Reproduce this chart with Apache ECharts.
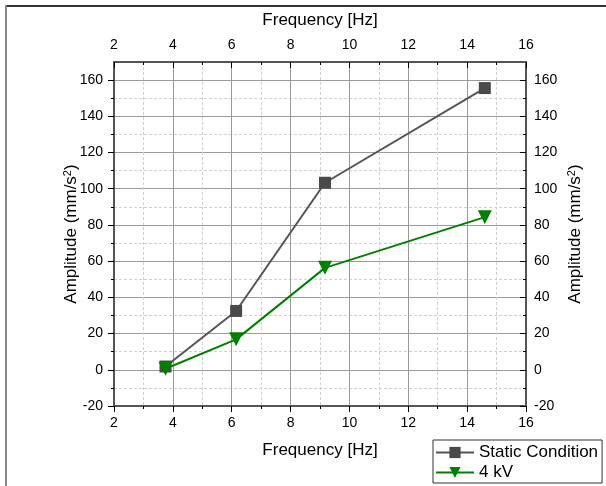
<!DOCTYPE html>
<html>
<head>
<meta charset="utf-8">
<script src="https://cdn.jsdelivr.net/npm/echarts@6/dist/echarts.min.js"></script>
<style>
  html, body { margin: 0; padding: 0; background: #fff; }
  #chart { width: 606px; height: 486px; }
</style>
</head>
<body>
<div id="chart"></div>
<script>
  // data
  var freq = [3.75, 6.15, 9.17, 14.6]
  var staticCond = [1.8, 32.5, 103.3, 155.6]
  var kv4 = [0.6, 16.8, 56.3, 84.3]
  var majorY = [-20, 0, 20, 40, 60, 80, 100, 120, 140, 160]
  var minorY = [-10, 10, 30, 50, 70, 90, 110, 130, 150]

  var chart = echarts.init(document.getElementById('chart'))
  var font = 'Liberation Sans, Arial, sans-serif'
  var axisColor = '#555'

  function pairs(ys) {
    return freq.map(function (x, i) { return [x, ys[i]] })
  }

  var ampName = 'Amplitude (mm/s{sup|2})'
  var nameStyle = {
    fontFamily: font, fontSize: 17, color: '#000',
    rich: { sup: { fontFamily: font, fontSize: 11, color: '#000', padding: [0, 0, 8, 0] } }
  }

  function xAx(pos) {
    var top = pos === 'top'
    return {
      type: 'value', position: pos, min: 2, max: 16, interval: 2,
      name: 'Frequency [Hz]', nameLocation: 'middle', nameGap: top ? 33 : 36,
      nameTextStyle: { fontFamily: font, fontSize: 17, color: '#000' },
      axisLine: { show: true, onZero: false, lineStyle: { color: axisColor, width: 2 } },
      axisTick: { show: true, inside: top, length: 6, lineStyle: { color: '#000' } },
      minorTick: { show: true, splitNumber: 2, length: 3, lineStyle: { color: '#000' } },
      axisLabel: { fontFamily: font, fontSize: 14, color: '#000', margin: 10 },
      splitLine: { show: !top, lineStyle: { color: '#9a9a9a', width: 1 } },
      minorSplitLine: { show: !top, lineStyle: { color: '#d0d0d0', width: 1, type: [3, 2] } }
    }
  }

  function yMajor(pos) {
    var left = pos === 'left'
    return {
      type: 'value', position: pos, min: -20, max: 170, interval: 20,
      name: ampName, nameLocation: 'middle', nameRotate: 90, nameGap: left ? 33 : 40,
      nameMoveOverlap: false,
      nameTextStyle: nameStyle,
      axisLine: { show: true, onZero: false, lineStyle: { color: axisColor, width: 2 } },
      axisTick: { show: true, inside: !left, length: 6, customValues: majorY, lineStyle: { color: '#000' } },
      axisLabel: { fontFamily: font, fontSize: 14, color: '#000', margin: left ? 11 : 8, customValues: majorY },
      splitLine: { show: left, lineStyle: { color: '#9a9a9a', width: 1 } }
    }
  }

  function yMinor(pos) {
    var left = pos === 'left'
    return {
      type: 'value', position: pos, min: -20, max: 170, interval: 10,
      axisLine: { show: false },
      axisTick: { show: true, inside: !left, length: 3, customValues: minorY, lineStyle: { color: '#000' } },
      axisLabel: { show: false },
      splitLine: { show: left, lineStyle: { color: '#d0d0d0', width: 1, type: [3, 2] } }
    }
  }

  chart.setOption({
    animation: false,
    backgroundColor: '#fff',
    textStyle: { fontFamily: font },
    grid: { left: 114, top: 62, width: 412, height: 344 },
    graphic: [
      { type: 'line', shape: { x1: 5, y1: 6, x2: 606, y2: 6 }, style: { stroke: '#333', lineWidth: 2 } },
      { type: 'line', shape: { x1: 6, y1: 5, x2: 6, y2: 486 }, style: { stroke: '#888', lineWidth: 2 } }
    ],
    legend: {
      orient: 'vertical', left: 433, top: 440,
      backgroundColor: '#fff', borderColor: '#333', borderWidth: 1,
      padding: [4, 4, 2, 2], itemWidth: 38, itemHeight: 14, itemGap: 3,
      textStyle: { fontFamily: font, fontSize: 17, color: '#000' },
      data: ['Static Condition', '4 kV']
    },
    xAxis: [xAx('bottom'), xAx('top')],
    yAxis: [yMinor('left'), yMinor('right'), yMajor('left'), yMajor('right')],
    series: [
      {
        name: 'Static Condition', type: 'line', xAxisIndex: 0, yAxisIndex: 2,
        data: pairs(staticCond),
        symbol: 'rect', symbolSize: 12,
        lineStyle: { color: '#555', width: 2 },
        itemStyle: { color: '#4a4a4a' }
      },
      {
        name: '4 kV', type: 'line', xAxisIndex: 0, yAxisIndex: 2,
        data: pairs(kv4),
        symbol: 'triangle', symbolRotate: 180, symbolSize: 14,
        lineStyle: { color: '#008000', width: 2 },
        itemStyle: { color: '#008000' }
      }
    ]
  })
</script>
</body>
</html>
